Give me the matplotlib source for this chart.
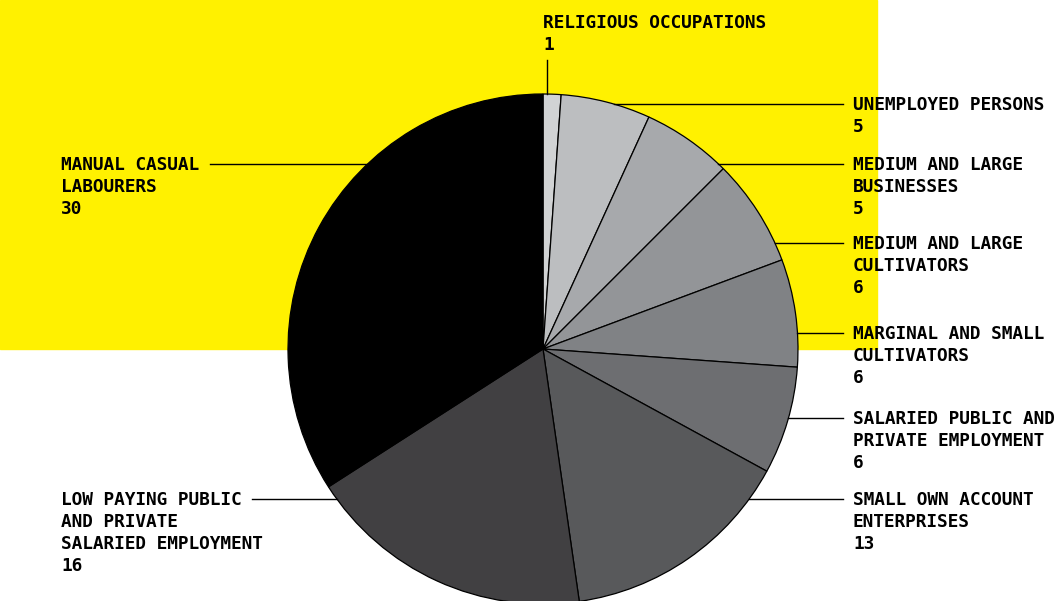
import matplotlib.pyplot as plt
import numpy as np
from matplotlib.patches import Rectangle

# occupation groups, clockwise from 12 o'clock
categories = [
    "RELIGIOUS OCCUPATIONS",
    "UNEMPLOYED PERSONS",
    "MEDIUM AND LARGE\nBUSINESSES",
    "MEDIUM AND LARGE\nCULTIVATORS",
    "MARGINAL AND SMALL\nCULTIVATORS",
    "SALARIED PUBLIC AND\nPRIVATE EMPLOYMENT",
    "SMALL OWN ACCOUNT\nENTERPRISES",
    "LOW PAYING PUBLIC\nAND PRIVATE\nSALARIED EMPLOYMENT",
    "MANUAL CASUAL\nLABOURERS",
]
values = [1, 5, 5, 6, 6, 6, 13, 16, 30]

shades = ["#d1d3d4", "#bcbec0", "#a7a9ac", "#939598", "#808285",
          "#6d6e71", "#58595b", "#414042", "#000000"]

W, H = 1058, 601
cx, cy, R = 543, 349, 255          # pie centre / radius in pixels (y down)

# label anchor rows (pixel y of leader line) and which side they sit on
label_rows = [22, 104, 164, 243, 333, 418, 499, 499, 164]
label_side = ["top", "right", "right", "right", "right", "right", "right", "left", "left"]
left_text_x = {7: 61, 8: 61}
left_line_x = {7: 252, 8: 210}

fig = plt.figure(figsize=(W / 100, H / 100), dpi=100)
ax = fig.add_axes([0, 0, 1, 1])


def py(y):
    return H - y


ax.add_patch(Rectangle((0, py(349)), 877, 349, color="#fff100", zorder=0))

ax.pie(values, colors=shades, startangle=90, counterclock=False,
       center=(cx, py(cy)), radius=R, frame=True,
       wedgeprops=dict(edgecolor="black", linewidth=0.9))
ax.set_xlim(0, W)
ax.set_ylim(0, H)
ax.set_aspect("equal")
ax.axis("off")

font = dict(family="DejaVu Sans Mono", fontweight="bold", fontsize=12.75, color="black")
pitch = 22


def put_label(x, y_line, text, val):
    lines = text.split("\n") + [str(val)]
    for i, ln in enumerate(lines):
        ax.text(x, py(y_line + 6 + i * pitch), ln, ha="left", va="baseline", **font)


for i, (cat, val) in enumerate(zip(categories, values)):
    side = label_side[i]
    y = label_rows[i]
    if side == "top":
        ax.plot([547, 547], [py(60), py(cy - np.sqrt(R**2 - 4**2))], color="black", lw=1)
        put_label(543, y, cat, val)
    elif side == "right":
        x_edge = cx + np.sqrt(R**2 - (y - cy) ** 2)
        ax.plot([x_edge, 843], [py(y), py(y)], color="black", lw=1)
        put_label(853, y, cat, val)
    else:
        x_edge = cx - np.sqrt(R**2 - (y - cy) ** 2)
        ax.plot([left_line_x[i], x_edge], [py(y), py(y)], color="black", lw=1)
        put_label(left_text_x[i], y, cat, val)

fig.savefig("out.png", dpi=100)
